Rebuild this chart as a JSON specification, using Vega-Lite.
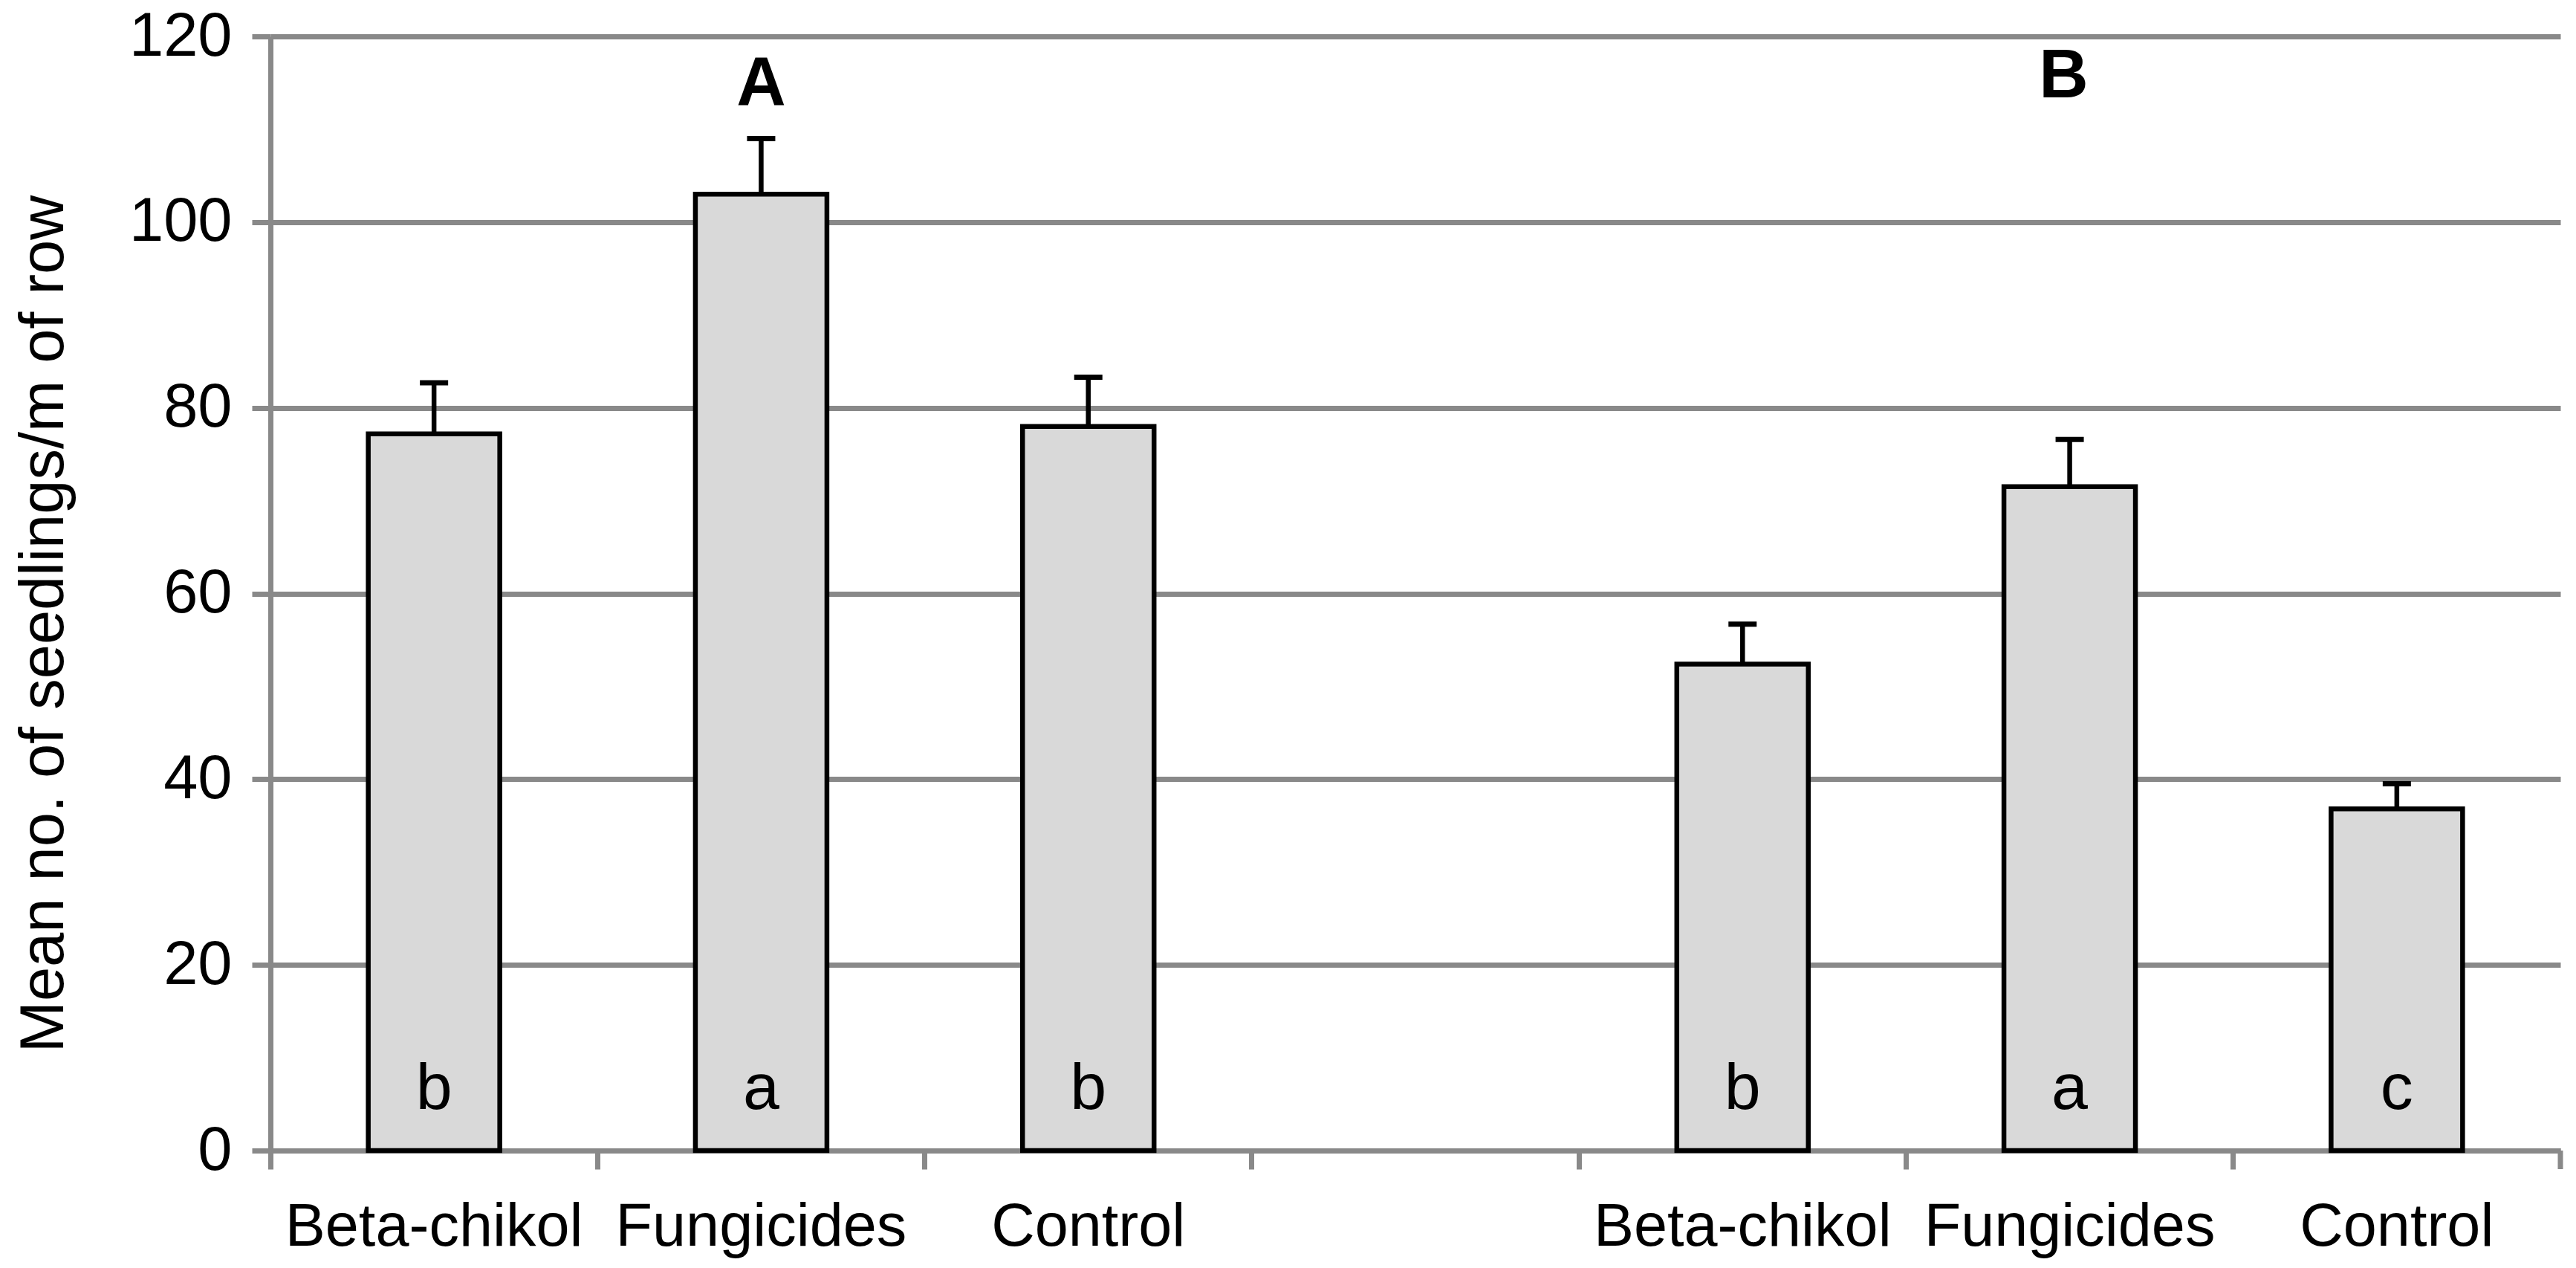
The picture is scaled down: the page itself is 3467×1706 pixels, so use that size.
{
  "$schema": "https://vega.github.io/schema/vega-lite/v6.json",
  "width": 3082,
  "height": 1499,
  "autosize": {"type": "none"},
  "padding": {"left": 364, "top": 49, "right": 21, "bottom": 158},
  "background": "white",
  "config": {"view": {"stroke": null}, "font": "Liberation Sans"},
  "datasets": {
    "bars": [
      {"slot": "A|Beta-chikol", "mean": 77.2, "upper": 82.7, "letter": "b"},
      {"slot": "A|Fungicides", "mean": 103.0, "upper": 109.0, "letter": "a"},
      {"slot": "A|Control", "mean": 78.0, "upper": 83.3, "letter": "b"},
      {"slot": "B|Beta-chikol", "mean": 52.4, "upper": 56.7, "letter": "b"},
      {"slot": "B|Fungicides", "mean": 71.5, "upper": 76.6, "letter": "a"},
      {"slot": "B|Control", "mean": 36.8, "upper": 39.5, "letter": "c"}
    ],
    "panels": [
      {"slot": "A|Fungicides", "panel": "A", "ypos": 112.6},
      {"slot": "B|Fungicides", "panel": "B", "ypos": 113.4}
    ],
    "edge": [{"slot": "B|Control"}]
  },
  "layer": [
    {
      "data": {"name": "bars"},
      "mark": {"type": "bar", "fill": "#d9d9d9", "stroke": "black", "strokeWidth": 6.5, "width": {"band": 0.402}},
      "encoding": {
        "x": {
          "field": "slot", "type": "nominal", "sort": null,
          "scale": {"domain": ["A|Beta-chikol", "A|Fungicides", "A|Control", "gap", "B|Beta-chikol", "B|Fungicides", "B|Control"], "paddingInner": 0, "paddingOuter": 0},
          "axis": {
            "title": null, "labelAngle": 0, "bandPosition": 0, "labelLimit": 0,
            "labelExpr": "indexof(datum.value, '|') >= 0 ? split(datum.value, '|')[1] : ''",
            "tickSize": 25, "tickWidth": 7, "tickColor": "#898989",
            "domainColor": "#898989", "domainWidth": 7,
            "labelFontSize": 81, "labelColor": "black", "labelPadding": 38, "grid": false
          }
        },
        "y": {
          "field": "mean", "type": "quantitative", "title": "Mean no. of seedlings/m of row",
          "scale": {"domain": [0, 120], "nice": false},
          "axis": {
            "values": [0, 20, 40, 60, 80, 100, 120], "labelLimit": 0,
            "grid": true, "gridColor": "#898989", "gridWidth": 7,
            "domainColor": "#898989", "domainWidth": 7,
            "tickSize": 25, "tickWidth": 7, "tickColor": "#898989",
            "labelFontSize": 83, "labelColor": "black", "labelPadding": 27,
            "titleFontSize": 83, "titleFontWeight": "normal", "titleColor": "black", "titlePadding": 72, "titleY": 790
          }
        }
      }
    },
    {
      "data": {"name": "bars"},
      "mark": {"type": "rule", "stroke": "black", "strokeWidth": 6.5},
      "encoding": {
        "x": {"field": "slot", "type": "nominal"},
        "y": {"field": "mean", "type": "quantitative", "title": "Mean no. of seedlings/m of row"},
        "y2": {"field": "upper"}
      }
    },
    {
      "data": {"name": "bars"},
      "mark": {"type": "tick", "color": "black", "size": 38, "thickness": 7, "opacity": 1},
      "encoding": {
        "x": {"field": "slot", "type": "nominal"},
        "y": {"field": "upper", "type": "quantitative", "title": "Mean no. of seedlings/m of row"}
      }
    },
    {
      "data": {"name": "bars"},
      "mark": {"type": "text", "fontSize": 88, "baseline": "alphabetic", "align": "center", "color": "black"},
      "encoding": {
        "x": {"field": "slot", "type": "nominal"},
        "y": {"datum": 4.5},
        "text": {"field": "letter"}
      }
    },
    {
      "data": {"name": "panels"},
      "transform": [{"filter": "datum.panel === 'A'"}],
      "mark": {"type": "text", "fontSize": 92, "fontWeight": "bold", "baseline": "alphabetic", "align": "center", "color": "black"},
      "encoding": {
        "x": {"field": "slot", "type": "nominal"},
        "y": {"field": "ypos", "type": "quantitative", "title": "Mean no. of seedlings/m of row"},
        "text": {"field": "panel"}
      }
    },
    {
      "data": {"name": "panels"},
      "transform": [{"filter": "datum.panel === 'B'"}],
      "mark": {"type": "text", "fontSize": 92, "fontWeight": "bold", "baseline": "alphabetic", "align": "center", "color": "black", "dx": -8},
      "encoding": {
        "x": {"field": "slot", "type": "nominal"},
        "y": {"field": "ypos", "type": "quantitative", "title": "Mean no. of seedlings/m of row"},
        "text": {"field": "panel"}
      }
    },
    {
      "data": {"name": "edge"},
      "mark": {"type": "rule", "stroke": "#898989", "strokeWidth": 7, "y2Offset": 25},
      "encoding": {
        "x": {"field": "slot", "type": "nominal", "bandPosition": 1},
        "y": {"datum": 0},
        "y2": {"datum": 0}
      }
    }
  ]
}
